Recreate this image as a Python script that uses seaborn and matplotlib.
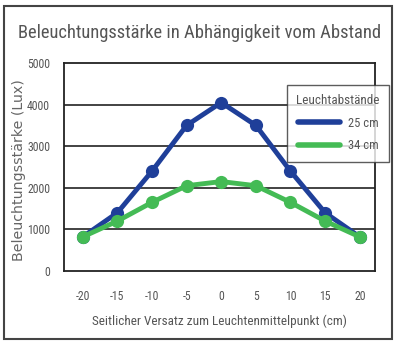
import matplotlib
matplotlib.use("Agg")
import matplotlib.pyplot as plt
import seaborn as sns
import pandas as pd
from matplotlib.patches import Rectangle
from matplotlib.lines import Line2D
from matplotlib import font_manager

x_offset = [-20, -15, -10, -5, 0, 5, 10, 15, 20]
lux_25cm = [820, 1400, 2400, 3500, 4050, 3500, 2400, 1400, 820]
lux_34cm = [820, 1200, 1650, 2050, 2150, 2050, 1650, 1200, 820]
series_names = ["25 cm", "34 cm"]
y_ticks = [0, 1000, 2000, 3000, 4000, 5000]

df = pd.concat([
    pd.DataFrame({"x": x_offset, "y": lux_25cm, "s": series_names[0]}),
    pd.DataFrame({"x": x_offset, "y": lux_34cm, "s": series_names[1]}),
])

sns.set_theme(style="white")
fl = font_manager.fontManager.ttflist
names = {f.name for f in fl}
stretch = "normal"
fam = None
for cand in ["Liberation Sans Narrow", "Roboto Condensed", "Open Sans Condensed",
             "Noto Sans Condensed"]:
    if cand in names:
        fam = cand
        break
if fam is None:
    cond = [f for f in fl if f.name == "DejaVu Sans" and str(f.stretch) in ("condensed", "semi-condensed")]
    if cond:
        fam = "DejaVu Sans"
        stretch = "condensed"
    else:
        fam = "Roboto" if "Roboto" in names else "DejaVu Sans"
plt.rcParams["font.family"] = [fam, "DejaVu Sans"]
plt.rcParams["font.stretch"] = stretch

text_col = "#555555"
fig = plt.figure(figsize=(4, 3.5), dpi=100)
W, H = 400, 350
ax = fig.add_axes([64 / W, 1 - 271 / H, (375 - 64) / W, (271 - 63) / H])

palette = {"25 cm": "#1f3f99", "34 cm": "#44bb55"}
sns.lineplot(data=df, x="x", y="y", hue="s", palette=palette, ax=ax,
             marker="o", markersize=9.5, linewidth=3.5, markeredgewidth=0,
             legend=False)

ax.set_xlim(-22.7, 22.2)
ax.set_ylim(0, 5000)
ax.set_xticks(x_offset)
ax.set_xticklabels([str(v) for v in x_offset])
ax.set_yticks(y_ticks)
ax.set_yticklabels([str(v) for v in y_ticks])
for yv in y_ticks[1:-1]:
    ax.axhline(yv, color="#222222", lw=1.2, zorder=0)
for s in ax.spines.values():
    s.set_color("#222222")
    s.set_linewidth(1.3)
ax.tick_params(axis="both", length=0, labelsize=8.5, colors=text_col)
ax.tick_params(axis="x", pad=14)
ax.tick_params(axis="y", pad=10)
ax.set_xlabel("Seitlicher Versatz zum Leuchtenmittelpunkt (cm)", fontsize=9.5,
              color=text_col, labelpad=8)
ax.set_ylabel("")
fig.text(19 / W, 1 - 170 / H, "Beleuchtungsstärke (Lux)", rotation=90,
         ha="center", va="center", fontsize=10.2, color="#666666",
         family=["DejaVu Sans"], stretch="normal")

fig.text(0.5, 1 - 33 / H, "Beleuchtungsstärke in Abhängigkeit vom Abstand",
         ha="center", va="center", fontsize=13.3, color=text_col)

handles = [Line2D([], [], color=palette[n], lw=4) for n in series_names]
leg = fig.legend(handles, series_names, title="Leuchtabstände",
                 loc="upper right", bbox_to_anchor=(389 / W, 1 - 85 / H),
                 borderaxespad=0,
                 frameon=True, fancybox=False, fontsize=9, title_fontsize=9.5,
                 handlelength=3.4, borderpad=0.75, labelspacing=0.75,
                 handletextpad=0.6)
leg.get_frame().set_edgecolor("#333333")
leg.get_frame().set_linewidth(1.0)
leg.get_title().set_color(text_col)
for t in leg.get_texts():
    t.set_color(text_col)

fig.patches.append(Rectangle((4 / W, 1 - 339 / H), 388 / W, 333 / H,
                             transform=fig.transFigure, fill=False,
                             edgecolor="#444444", lw=1.5))

fig.savefig("out.png", dpi=100)
